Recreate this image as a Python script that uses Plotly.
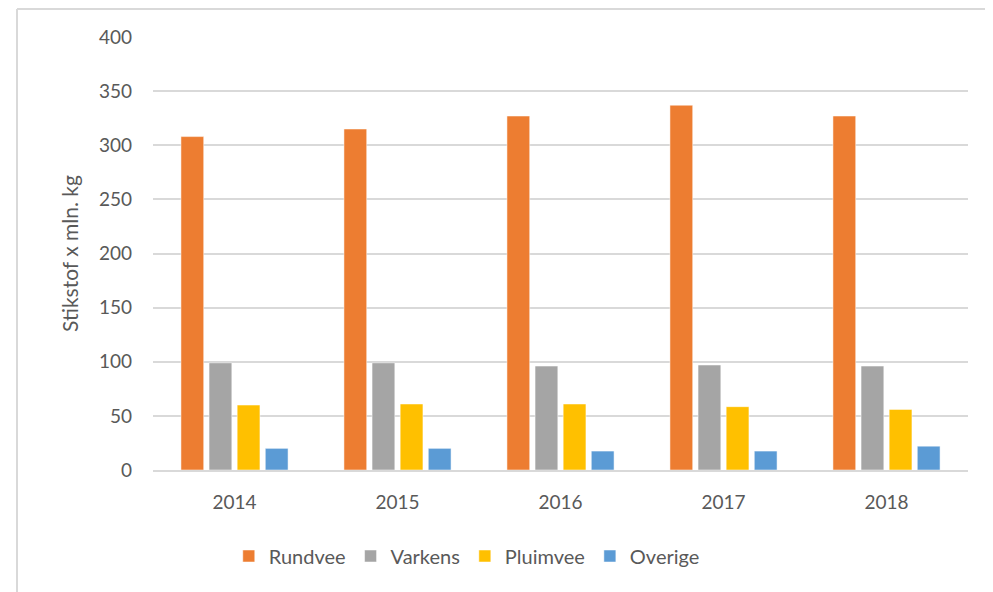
import plotly.graph_objects as go

# Stikstofexcretie per diercategorie (mln. kg)
years = ["2014", "2015", "2016", "2017", "2018"]
rundvee = [308, 315, 327, 337, 327]
varkens = [99, 99, 96, 97, 96]
pluimvee = [60, 61, 61, 58.5, 56]
overige = [20, 20, 17.5, 17.5, 22]

series = [
    ("Rundvee", rundvee, "#ED7D31"),
    ("Varkens", varkens, "#A5A5A5"),
    ("Pluimvee", pluimvee, "#FFC000"),
    ("Overige", overige, "#5B9BD5"),
]

text_color = "#595959"
grid_color = "#D9D9D9"
font_family = "Lato, Open Sans, sans-serif"

# the page body adds an 8px offset, so the figure is drawn 8px smaller
offset = 8
fig_w, fig_h = 993 - offset, 592 - offset

fig = go.Figure()
for name, values, color in series:
    fig.add_trace(go.Bar(
        x=years,
        y=values,
        name=name,
        marker=dict(color=color, line=dict(color="white", width=0.5)),
    ))

# target plot area in page pixels
plot_l, plot_r, plot_t, plot_b = 153, 968, 37, 470
px_w = plot_r - plot_l
px_h = plot_b - plot_t

# thin frame round the chart, like the Excel chart area border
left_px, top_px = 17, 9
fx = (left_px - plot_l) / px_w
fy = (plot_b - top_px) / px_h
frame = dict(type="line", xref="paper", yref="paper",
             line=dict(color=grid_color, width=2), layer="below")

fig.update_layout(
    width=fig_w,
    height=fig_h,
    barmode="group",
    bargap=0.31,
    bargroupgap=0.19,
    paper_bgcolor="white",
    plot_bgcolor="white",
    font=dict(family=font_family, color=text_color, size=19),
    margin=dict(l=plot_l - offset, r=993 - plot_r, t=plot_t - offset, b=592 - plot_b),
    showlegend=True,
    legend=dict(
        orientation="h",
        x=0.385,
        xanchor="center",
        y=(plot_b - 556) / px_h,
        yanchor="middle",
        font=dict(size=20, color=text_color),
        itemwidth=30,
        traceorder="normal",
    ),
    shapes=[
        dict(frame, x0=fx, x1=1.2, y0=fy, y1=fy),
        dict(frame, x0=fx, x1=fx, y0=fy, y1=-0.4),
    ],
)

fig.update_xaxes(
    showgrid=False,
    showline=True,
    linecolor=grid_color,
    linewidth=2,
    ticks="",
    ticklabelstandoff=14,
    tickfont=dict(size=19, color=text_color),
)

fig.update_yaxes(
    range=[0, 400],
    dtick=50,
    showgrid=True,
    gridcolor=grid_color,
    gridwidth=2,
    zeroline=False,
    showline=False,
    ticks="",
    ticklabelstandoff=20,
    tickfont=dict(size=19, color=text_color),
    title=dict(text="Stikstof x mln. kg", font=dict(size=21, color=text_color), standoff=14),
)

fig.write_html("out.html")
